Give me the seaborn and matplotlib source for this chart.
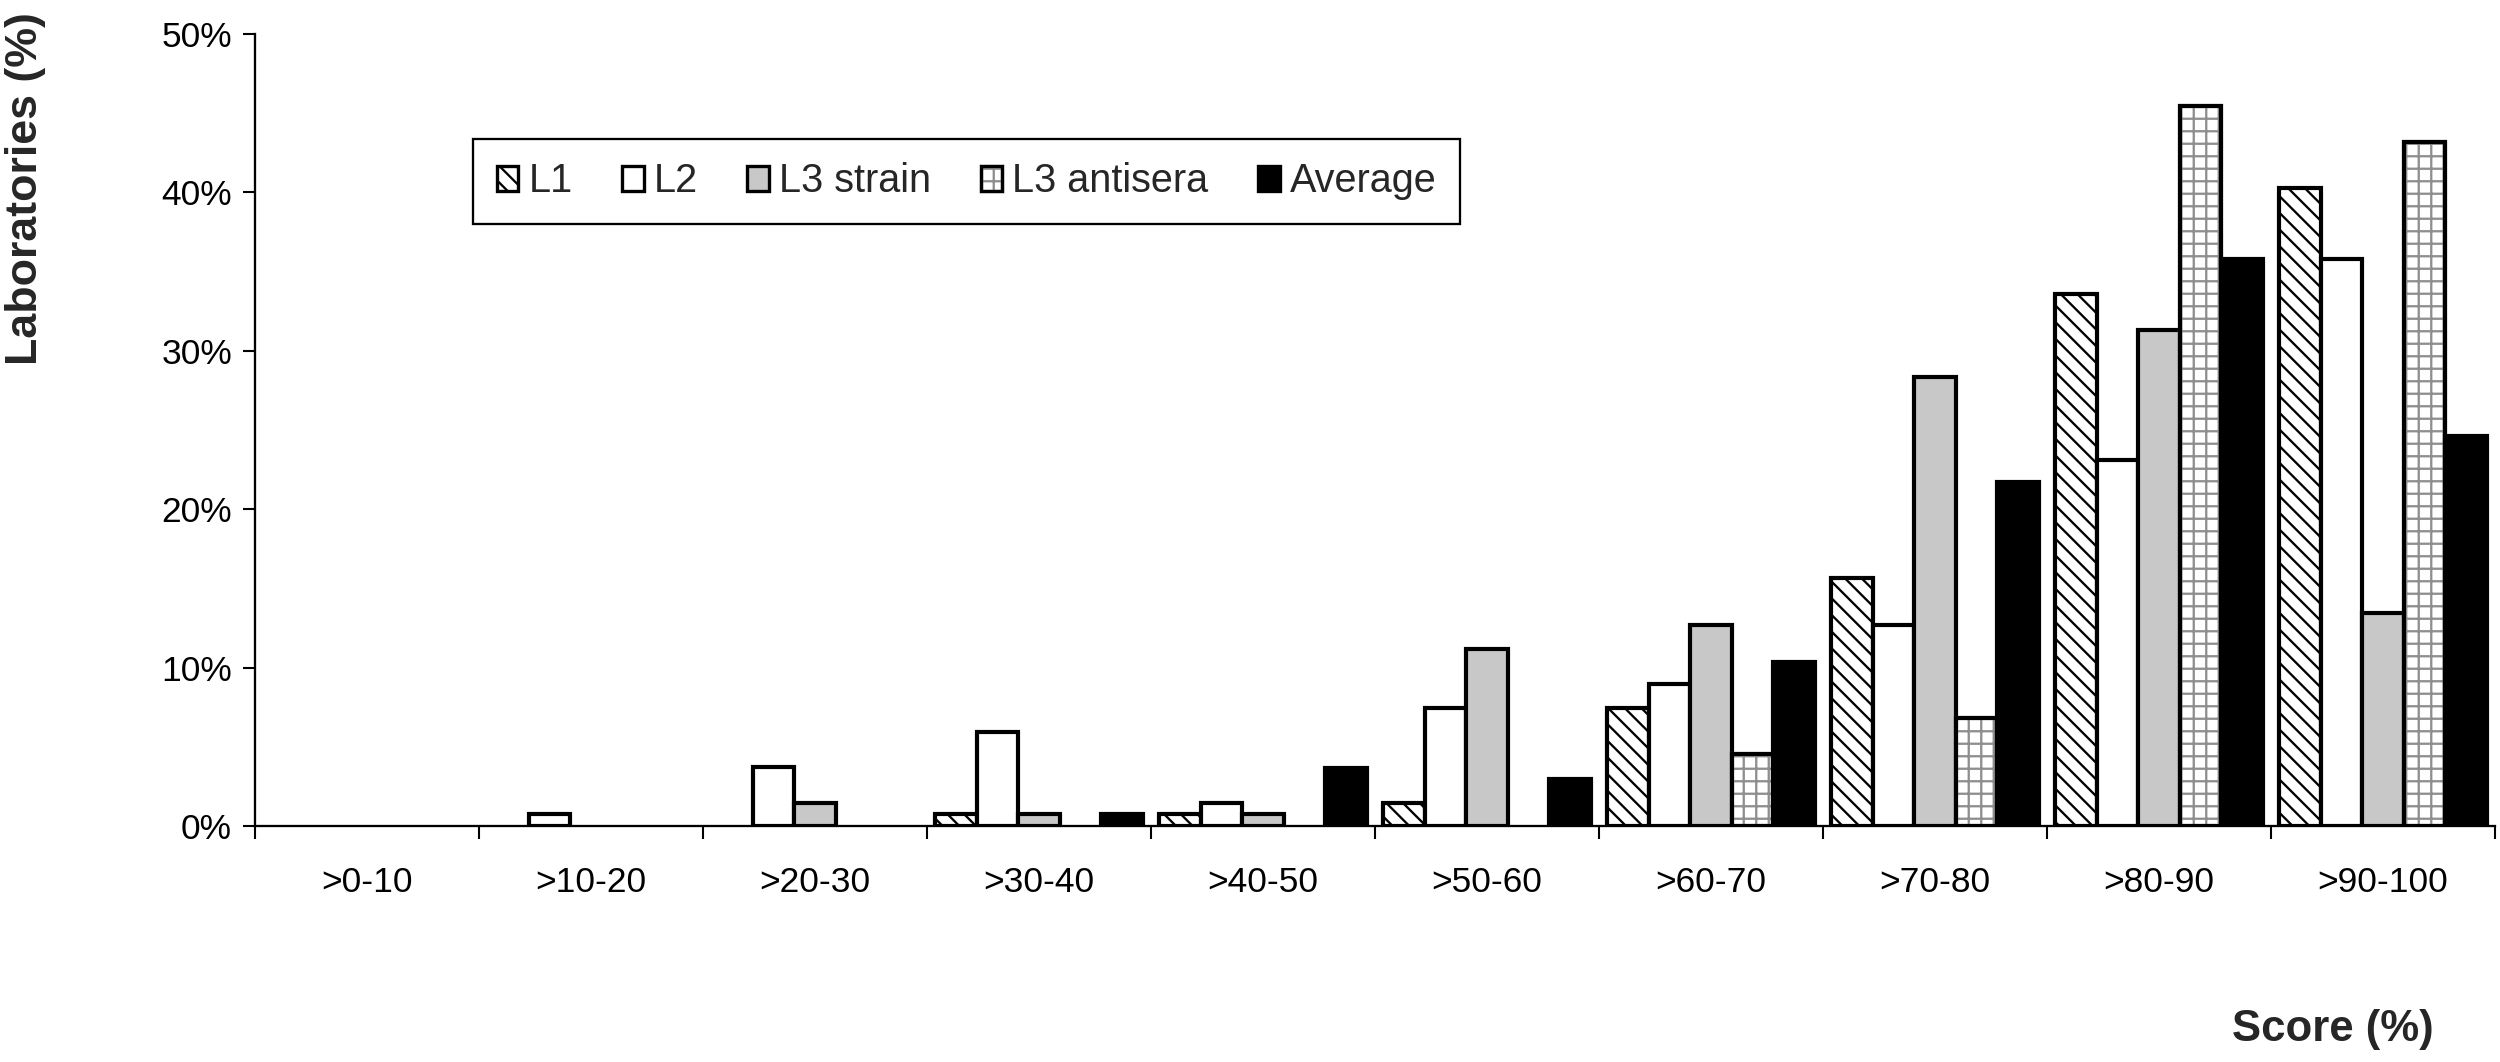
import numpy as np
import pandas as pd
import matplotlib
matplotlib.use("Agg")
import matplotlib.pyplot as plt
import matplotlib.patches as mpatches
from matplotlib.ticker import PercentFormatter, FixedLocator
import seaborn as sns

# score bins and the share of laboratories (%) per bin
categories = [">0-10", ">10-20", ">20-30", ">30-40", ">40-50",
              ">50-60", ">60-70", ">70-80", ">80-90", ">90-100"]
series = ["L1", "L2", "L3 strain", "L3 antisera", "Average"]

l1 = [0, 0, 0, 0.75, 0.75, 1.49, 7.46, 15.67, 33.58, 40.30]
l2 = [0, 0.75, 3.73, 5.97, 1.49, 7.46, 8.96, 12.69, 23.13, 35.82]
l3_strain = [0, 0, 1.49, 0.75, 0.75, 11.19, 12.69, 28.36, 31.34, 13.43]
l3_antisera = [0, 0, 0, 0, 0, 0, 4.55, 6.82, 45.45, 43.18]
average = [0, 0, 0, 0.75, 3.65, 2.95, 10.35, 21.70, 35.80, 24.60]

y_ticks = [0, 10, 20, 30, 40, 50]

# look of each series
face = {"L1": "white", "L2": "white", "L3 strain": "#c8c8c8",
        "L3 antisera": "white", "Average": "black"}
grid_grey = "#8f8f8f"
diag = "\\\\\\"
bar_lw = 2.0

sns.set_style("ticks")
plt.rcParams["font.family"] = ["Liberation Sans", "DejaVu Sans"]
plt.rcParams["hatch.linewidth"] = 1.1

df = pd.DataFrame({
    "score": categories * len(series),
    "pct": l1 + l2 + l3_strain + l3_antisera + average,
    "series": [s for s in series for _ in categories],
})

fig = plt.figure(figsize=(2500 / 150, 1062 / 150), dpi=150)
ax = fig.add_axes([0.102, 0.222, 0.896, 0.746])

sns.barplot(data=df, x="score", y="pct", hue="series", order=categories,
            hue_order=series, palette=face, saturation=1, width=0.93, gap=0,
            edgecolor="black", linewidth=bar_lw, legend=False, ax=ax)

# hatches: diagonal for L1, grey grid with black outline for L3 antisera
for name, cont in zip(series, ax.containers):
    for p in cont:
        if p.get_height() == 0:
            p.set_visible(False)
            continue
        if name == "L1":
            p.set_hatch(diag)
        elif name == "L3 antisera":
            p.set_hatch("++")
            p.set_edgecolor(grid_grey)
            ax.add_patch(mpatches.Rectangle((p.get_x(), p.get_y()), p.get_width(),
                                            p.get_height(), fill=False,
                                            edgecolor="black", linewidth=bar_lw, zorder=3))

ax.set_ylim(0, 50)
ax.set_yticks(y_ticks)
ax.yaxis.set_major_formatter(PercentFormatter(xmax=100, decimals=0))
ax.set_xlim(-0.5, len(categories) - 0.5)

# category labels centred, small ticks at the bin boundaries
ax.tick_params(axis="x", which="major", length=0, pad=19, labelsize=17)
ax.xaxis.set_minor_locator(FixedLocator(np.arange(-0.5, len(categories), 1.0)))
ax.tick_params(axis="x", which="minor", length=6, width=1.0, color="black", direction="out")
ax.tick_params(axis="y", length=6, width=1.0, color="black", pad=5, labelsize=17)
for lab in ax.get_xticklabels() + ax.get_yticklabels():
    lab.set_color("black")

ax.set_xlabel("")
ax.set_ylabel("")
sns.despine(ax=ax)
for side in ["left", "bottom"]:
    ax.spines[side].set_color("black")
    ax.spines[side].set_linewidth(1.1)

fig.text(0.0104, 0.822, "Laboratories (%)", rotation=90, ha="center", va="center",
         fontsize=21.5, fontweight="bold")
fig.text(0.933, 0.031, "Score (%)", ha="center", va="center",
         fontsize=21, fontweight="bold")

# legend built by hand so the hatches show
handles = []
for name in series:
    if name == "L1":
        handles.append(mpatches.Patch(facecolor="white", edgecolor="black", hatch=diag, linewidth=1.6))
    elif name == "L3 antisera":
        handles.append((mpatches.Patch(facecolor="white", edgecolor=grid_grey, hatch="++", linewidth=1.6),
                        mpatches.Patch(fill=False, edgecolor="black", linewidth=1.6)))
    else:
        handles.append(mpatches.Patch(facecolor=face[name], edgecolor="black", linewidth=1.6))

leg = ax.legend(handles, series, loc="upper left", bbox_to_anchor=(0.0973, 0.868),
                ncol=5, fontsize=19, frameon=True, fancybox=False, framealpha=1,
                edgecolor="black", handlelength=0.55, handleheight=0.6,
                handletextpad=0.25, columnspacing=1.25, borderpad=0.6,
                borderaxespad=0)
leg.get_frame().set_linewidth(1.1)

fig.savefig("out.png", dpi=150, facecolor="white")
